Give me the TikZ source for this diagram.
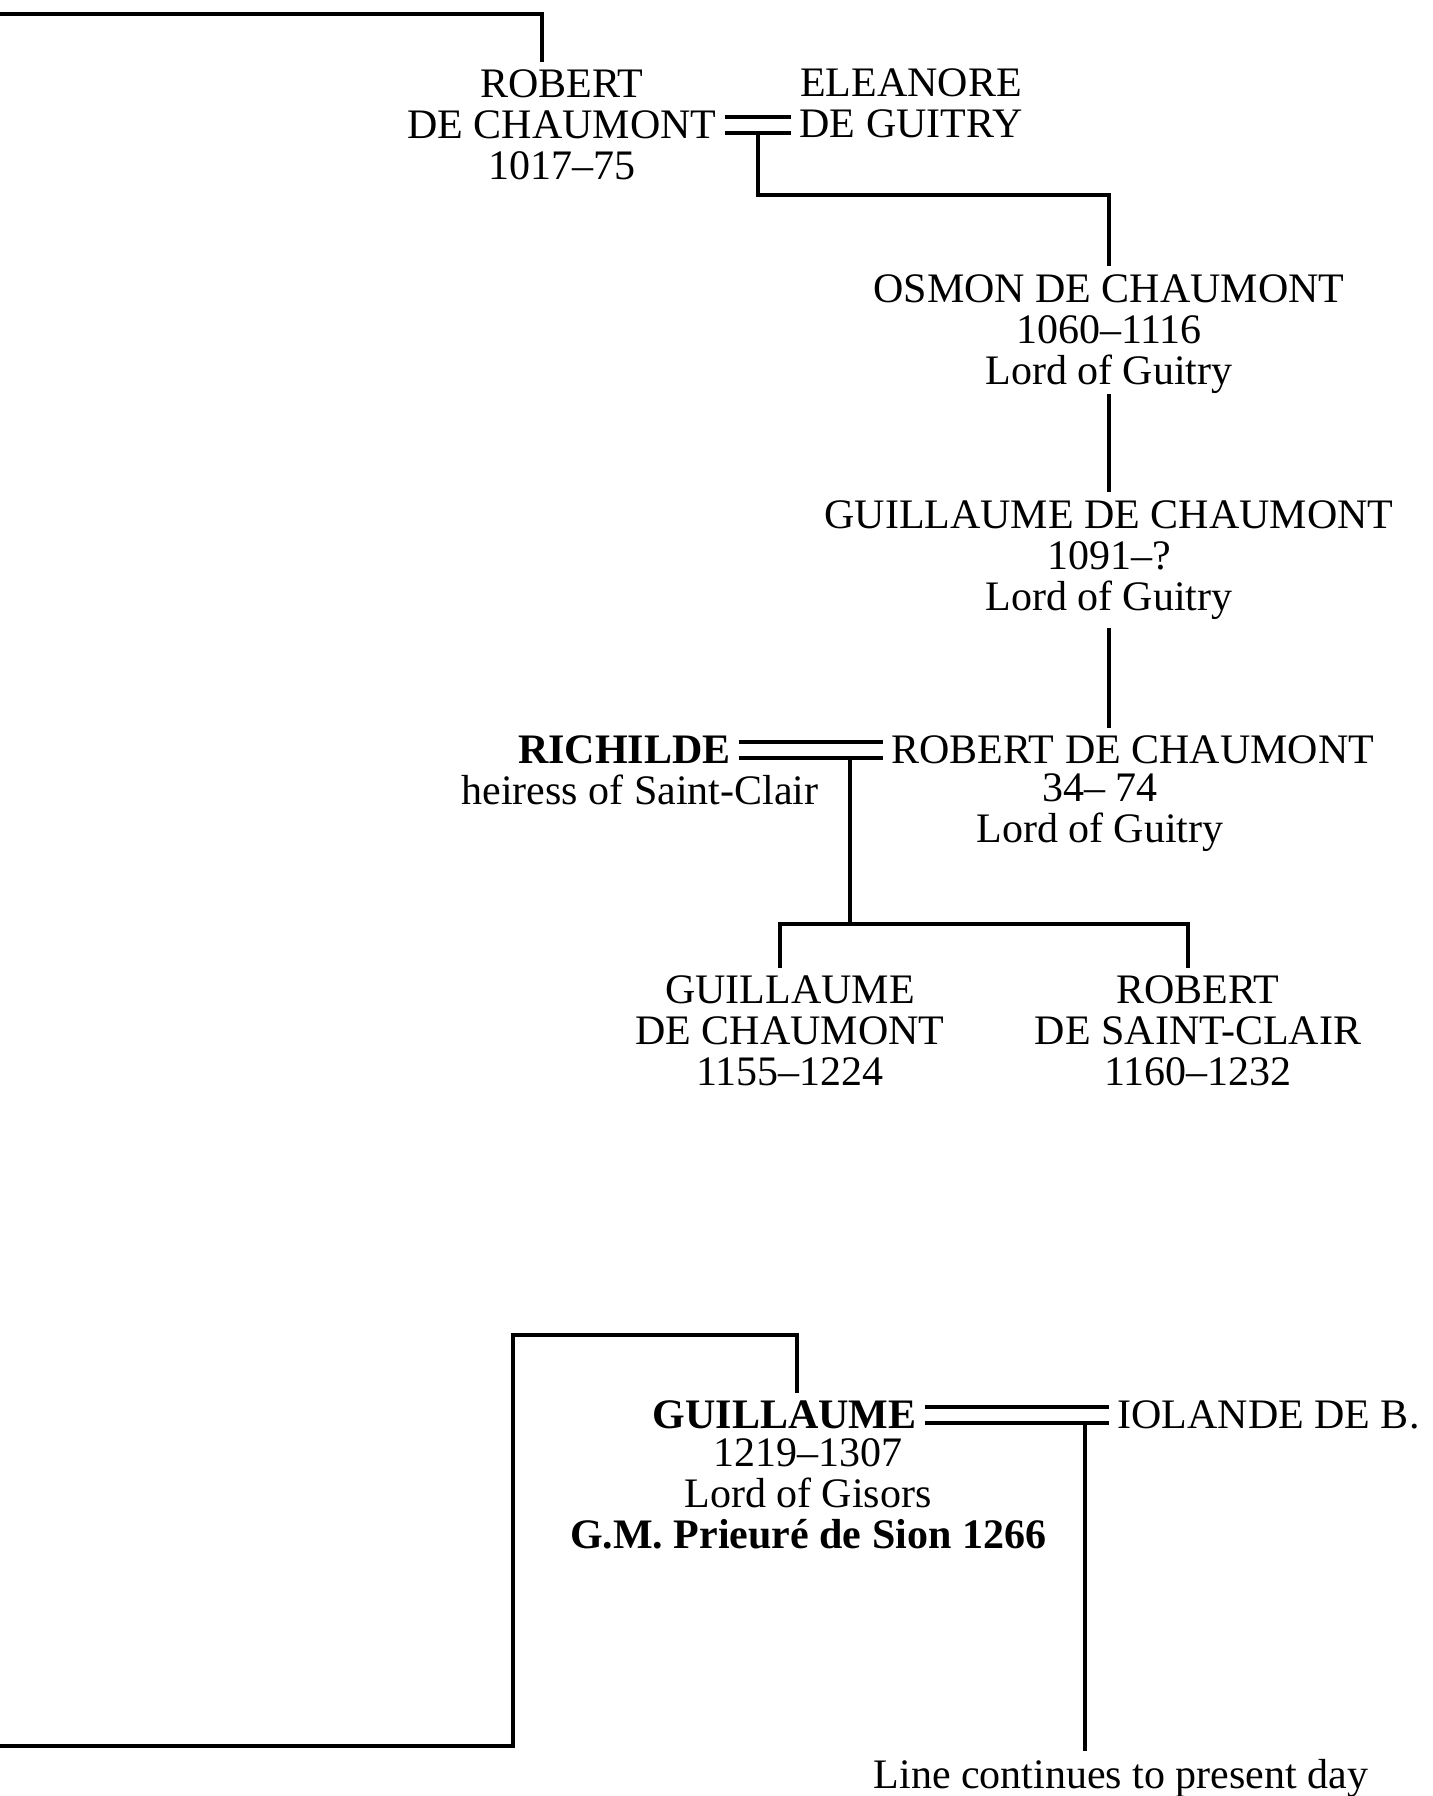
\documentclass[tikz,border=0pt]{standalone}
\usepackage{fontspec}
\setmainfont{Liberation Serif}
\usetikzlibrary{calc}

\tikzset{
  person/.style={font=\fontsize{21}{20.5}\selectfont, align=center, inner sep=4pt},
  line/.style={line width=1.8pt},
  marriage/.style={line width=2pt, double, double distance=5.8pt},
}

\begin{document}
\begin{tikzpicture}[x=0.5pt, y=-0.5pt]
    \useasboundingbox (0,0) rectangle (1432,1796);

    % Upper branch
    \node[person] (robert1) at (562,125) {ROBERT\\DE CHAUMONT\\1017–75};
    \node[person] (eleanore) at (911,103) {ELEANORE\\DE GUITRY};
    \node[person] (osmon) at (1109,334) {OSMON DE CHAUMONT\\1060–1116\\Lord of Guitry};
    \node[person] (guillaume1) at (1109,560) {GUILLAUME DE CHAUMONT\\1091–?\\Lord of Guitry};
    \node[person, anchor=east] (richilde) at (739,750) {\textbf{RICHILDE}};
    \node[person] (richildeNote) at (640,790) {heiress of Saint-Clair};
    \node[person, anchor=west] (robert2) at (883,750) {ROBERT DE CHAUMONT};
    \node[person] (robert2Note) at (1100,813) {34– 74\\Lord of Guitry};
    \node[person] (guillaume2) at (790,1031) {GUILLAUME\\DE CHAUMONT\\1155–1224};
    \node[person] (robert3) at (1198,1031) {ROBERT\\DE SAINT-CLAIR\\1160–1232};

    % Lower branch
    \node[person, anchor=east] (guillaume3) at (925,1415) {\textbf{GUILLAUME}};
    \node[person] (guillaume3Note) at (808,1494) {1219–1307\\Lord of Gisors\\\textbf{G.M. Prieuré de Sion 1266}};
    \node[person, anchor=west] (iolande) at (1109,1415) {IOLANDE DE B.};
    \node[person] (linecont) at (1121,1778) {Line continues to present day};

    % Free ends and bends
    \coordinate (in1) at (0,14);
    \coordinate (in2) at (0,1746);
    \coordinate (bend) at (513,1335);
    \coordinate (m1) at ($(robert1.east)!0.5!(robert1.east -| eleanore.west)+(0,7.8)$);
    \coordinate (m2) at ($(richilde.east)!0.77!(robert2.west)+(0,7.8)$);
    \coordinate (m3) at ($(guillaume3.east)!0.87!(iolande.west)+(0,7.8)$);

    % Lines of descent
    \draw[line] (in1) -| ([xshift=-10pt]robert1.north);
    \draw[marriage] (robert1.east) -- (robert1.east -| eleanore.west);
    \draw[line] (m1) -- ++(0,62) -| (osmon.north);
    \draw[line] ([yshift=4pt]osmon.south) -- (guillaume1.north);
    \draw[line] (guillaume1.south) -- (guillaume1.south |- robert2.north);
    \draw[marriage] (richilde.east) -- (robert2.west);
    \draw[line] (m2) -- ++(0,166) coordinate (fork);
    \draw[line] ([xshift=-5pt]guillaume2.north) |- (fork) -| ([xshift=-5pt]robert3.north);

    \draw[line] (in2) -| (bend) -| ([xshift=6pt]guillaume3.north);
    \draw[marriage] (guillaume3.east) -- (iolande.west);
    \draw[line] (m3) -- (m3 |- linecont.north);
\end{tikzpicture}
\end{document}
